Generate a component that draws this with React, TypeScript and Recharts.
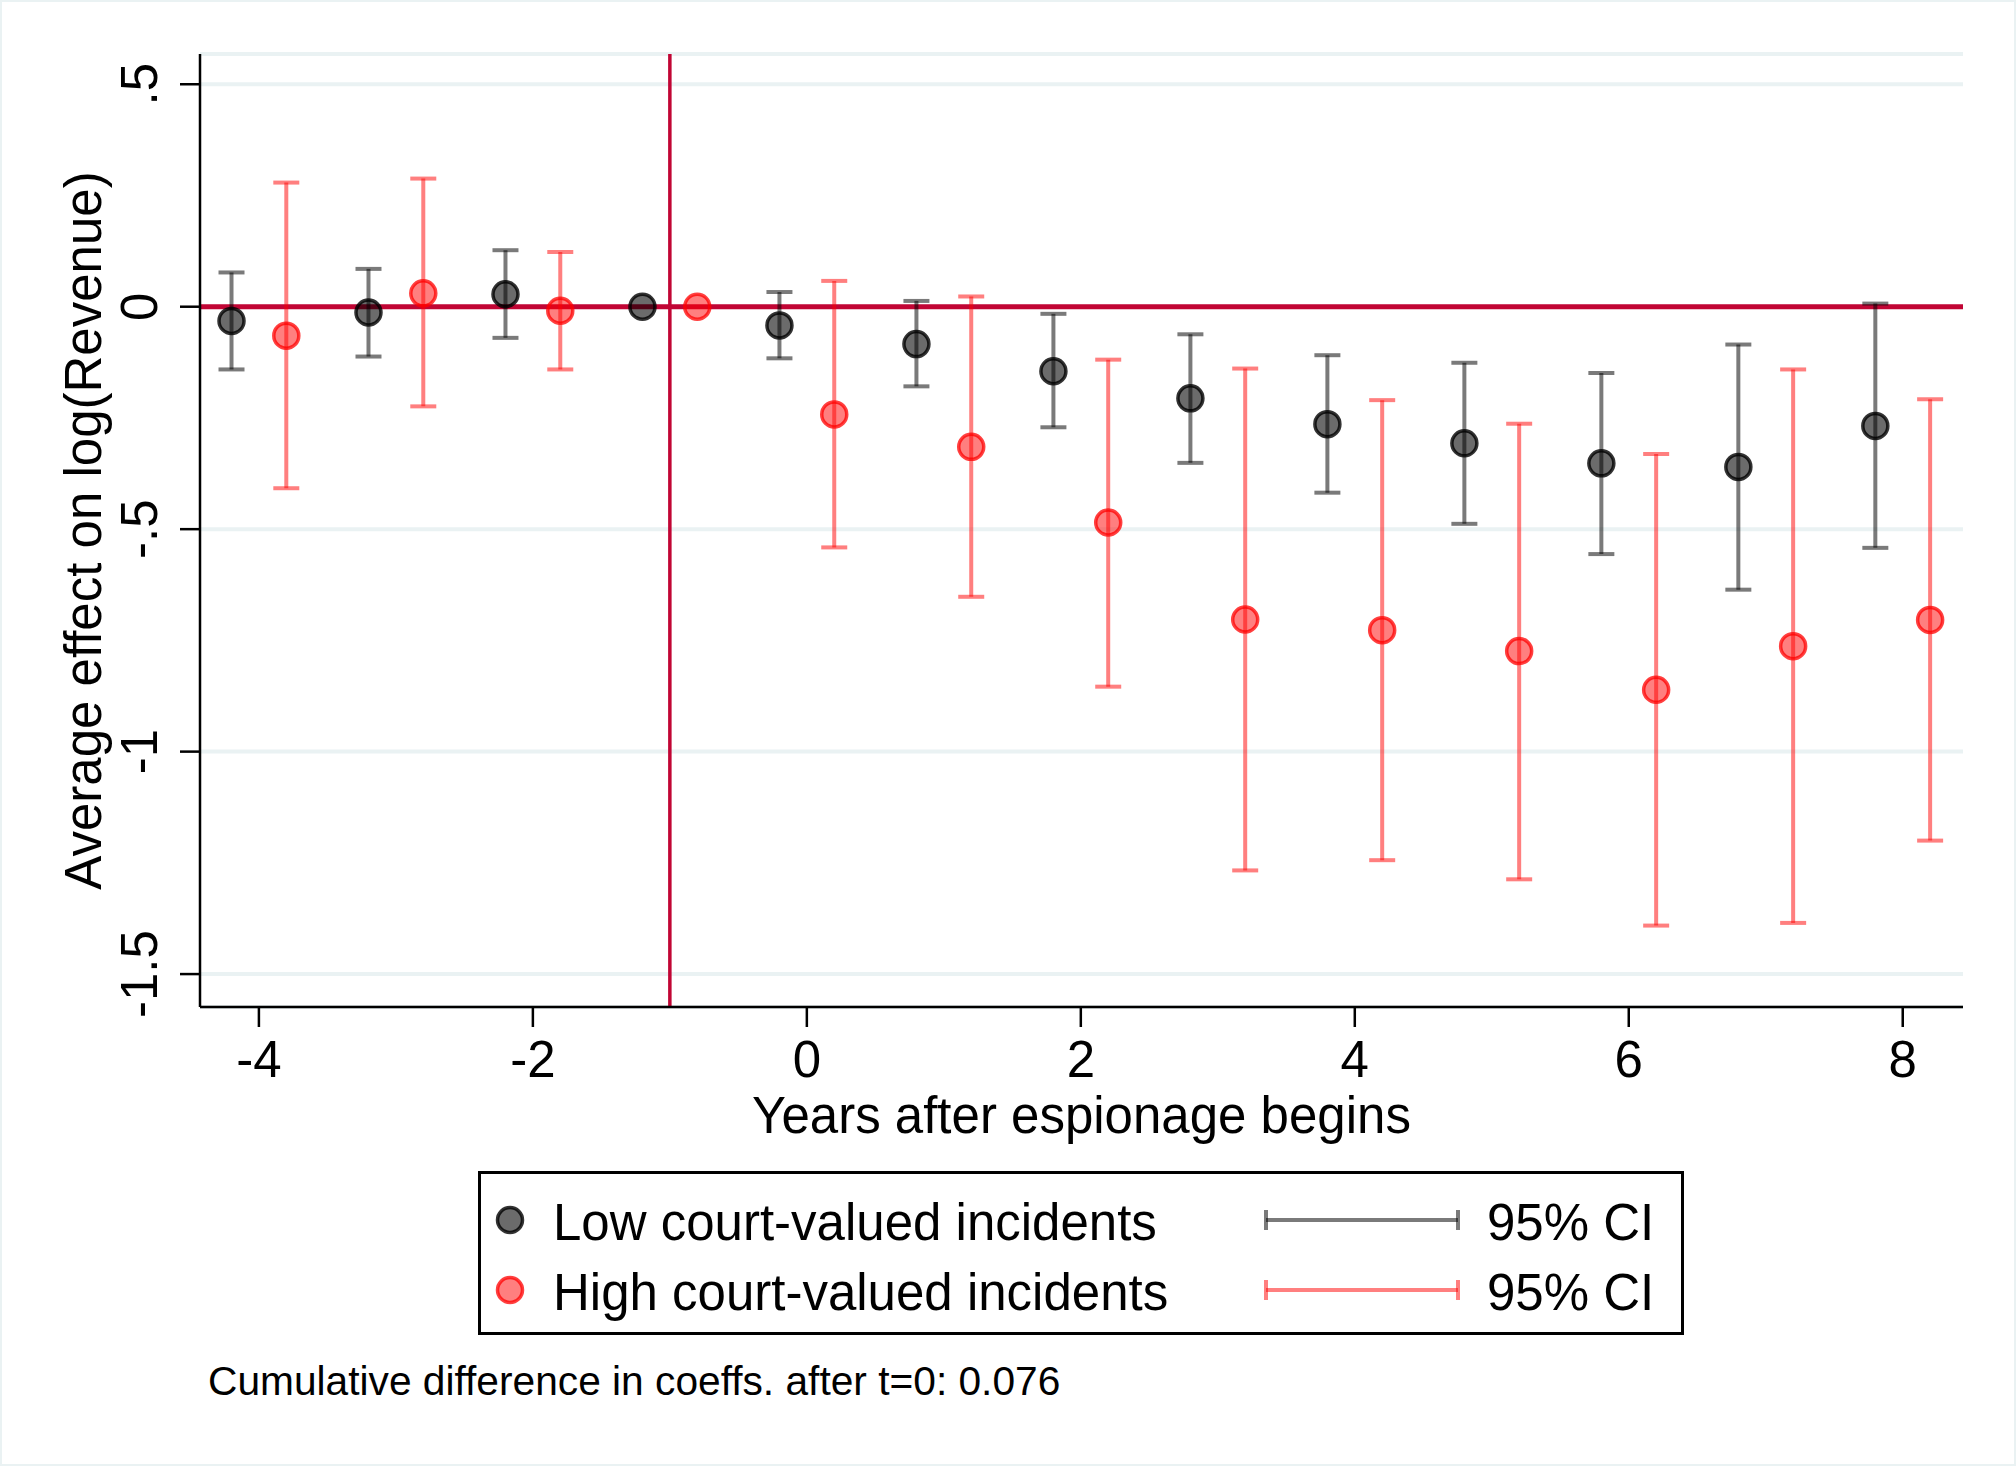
import React from "react";
import {
  ComposedChart,
  Scatter,
  ErrorBar,
  XAxis,
  YAxis,
  CartesianGrid,
  ReferenceLine,
  Legend,
  Label,
} from "recharts";

// event time (years after espionage begins); -1 is the omitted reference year
const years = [-4, -3, -2, -1, 0, 1, 2, 3, 4, 5, 6, 7, 8];

// low court-valued incidents
const lowCoef = [-0.032, -0.013, 0.028, 0, -0.042, -0.084, -0.145, -0.206, -0.264, -0.307, -0.352, -0.36, -0.268];
const lowLo = [-0.141, -0.112, -0.07, null, -0.116, -0.179, -0.271, -0.351, -0.418, -0.488, -0.556, -0.636, -0.542];
const lowHi = [0.077, 0.085, 0.127, null, 0.033, 0.013, -0.016, -0.062, -0.109, -0.126, -0.149, -0.085, 0.007];

// high court-valued incidents
const highCoef = [-0.065, 0.03, -0.009, 0, -0.242, -0.315, -0.485, -0.703, -0.727, -0.774, -0.861, -0.763, -0.704];
const highLo = [-0.408, -0.224, -0.141, null, -0.541, -0.652, -0.854, -1.267, -1.244, -1.287, -1.391, -1.385, -1.2];
const highHi = [0.279, 0.288, 0.123, null, 0.058, 0.023, -0.119, -0.139, -0.21, -0.263, -0.331, -0.141, -0.208];

const seriesNames = ["Low court-valued incidents", "High court-valued incidents"];
const ciLabel = "95% CI";
const xTicks = [-4, -2, 0, 2, 4, 6, 8];
const yTicks = [0.5, 0, -0.5, -1, -1.5];
const xTitle = "Years after espionage begins";
const yTitle = "Average effect on log(Revenue)";
const note = "Cumulative difference in coeffs. after t=0: 0.076";

const FONT = '"Liberation Sans", Arial, Helvetica, sans-serif';
const FS = 51;
const CRANBERRY = "#C10534";
const GRID = "#EAF2F3";
const LOW_FILL = "rgba(0,0,0,0.58)";
const LOW_LINE = "rgba(0,0,0,0.52)";
const LOW_EDGE = "rgba(0,0,0,0.8)";
const HIGH_FILL = "rgba(255,0,0,0.5)";
const HIGH_LINE = "rgba(255,0,0,0.5)";
const HIGH_EDGE = "rgba(255,0,0,0.75)";

function buildRows(coef: number[], lo: (number | null)[], hi: (number | null)[], dx: number) {
  return years.map((t, i) => ({
    x: t + dx,
    y: coef[i],
    err: lo[i] === null ? null : [coef[i] - (lo[i] as number), (hi[i] as number) - coef[i]],
  }));
}

const lowRows = buildRows(lowCoef, lowLo, lowHi, -0.2);
const highRows = buildRows(highCoef, highLo, highHi, 0.2);

const dot = (fill: string, stroke: string) => (props: any) =>
  <circle cx={props.cx} cy={props.cy} r={12.5} fill={fill} stroke={stroke} strokeWidth={3.5} />;

const fmtY = (v: number) => String(v).replace("0.", ".");

const YTick = (props: any) => (
  <text
    transform={`translate(${props.x - 21}, ${props.y}) rotate(-90)`}
    textAnchor="middle"
    fontSize={FS}
    fill="#000"
    fontFamily={FONT}
  >
    {fmtY(props.payload.value)}
  </text>
);

const LegendBox = () => {
  const rows = [
    { name: seriesNames[0], fill: LOW_FILL, edge: LOW_EDGE, line: LOW_LINE, y: 49 },
    { name: seriesNames[1], fill: HIGH_FILL, edge: HIGH_EDGE, line: HIGH_LINE, y: 119 },
  ];
  return (
    <svg width={1207} height={166} style={{ display: "block", fontFamily: FONT }}>
      <rect x={1.5} y={1.5} width={1203} height={161} fill="#fff" stroke="#000" strokeWidth={3} />
      {rows.map((r) => (
        <g key={r.name}>
          <circle cx={32} cy={r.y} r={12.5} fill={r.fill} stroke={r.edge} strokeWidth={3.5} />
          <text x={75} y={r.y + 20} fontSize={FS} fill="#000">{r.name}</text>
          <line x1={788} x2={980} y1={r.y} y2={r.y} stroke={r.line} strokeWidth={4} />
          <line x1={788} x2={788} y1={r.y - 10} y2={r.y + 10} stroke={r.line} strokeWidth={4} />
          <line x1={980} x2={980} y1={r.y - 10} y2={r.y + 10} stroke={r.line} strokeWidth={4} />
          <text x={1009} y={r.y + 20} fontSize={FS} fill="#000">{ciLabel}</text>
        </g>
      ))}
    </svg>
  );
};

export default function App() {
  return (
    <div style={{ position: "relative", width: 2016, height: 1466, background: "#fff", fontFamily: FONT }}>
      <style>{"body{margin:0}"}</style>
      <ComposedChart
        width={2016}
        height={1466}
        margin={{ top: 54, right: 53, bottom: 399, left: 0 }}
        style={{ fontFamily: FONT }}
      >
        <CartesianGrid vertical={false} stroke={GRID} strokeWidth={4} />
        <XAxis
          type="number"
          dataKey="x"
          domain={[-4.43, 8.44]}
          ticks={xTicks}
          interval={0}
          allowDataOverflow
          height={60}
          tickSize={20}
          tickMargin={14}
          tick={{ fontSize: FS, fill: "#000" }}
          axisLine={{ stroke: "#000", strokeWidth: 2.5 }}
          tickLine={{ stroke: "#000", strokeWidth: 2.5 }}
        >
          <Label
            content={(p: any) => (
              <text
                x={p.viewBox.x + p.viewBox.width / 2}
                y={p.viewBox.y + 126}
                textAnchor="middle"
                fontSize={FS}
                fill="#000"
                fontFamily={FONT}
              >
                {xTitle}
              </text>
            )}
          />
        </XAxis>
        <YAxis
          type="number"
          dataKey="y"
          domain={[-1.574, 0.568]}
          ticks={yTicks}
          interval={0}
          allowDataOverflow
          width={200}
          tickSize={20}
          tick={<YTick />}
          axisLine={{ stroke: "#000", strokeWidth: 2.5 }}
          tickLine={{ stroke: "#000", strokeWidth: 2.5 }}
        >
          <Label
            content={(p: any) => (
              <text
                transform={`translate(${p.viewBox.x + 101}, ${p.viewBox.y + p.viewBox.height / 2}) rotate(-90)`}
                textAnchor="middle"
                fontSize={FS}
                fill="#000"
                fontFamily={FONT}
              >
                {yTitle}
              </text>
            )}
          />
        </YAxis>
        <ReferenceLine y={0} stroke={CRANBERRY} strokeWidth={5} />
        <ReferenceLine x={-1} stroke={CRANBERRY} strokeWidth={3.5} />
        <Scatter
          name={seriesNames[0]}
          data={lowRows}
          shape={dot(LOW_FILL, LOW_EDGE)}
          isAnimationActive={false}
        >
          <ErrorBar dataKey="err" direction="y" width={13} stroke={LOW_LINE} strokeWidth={4} isAnimationActive={false} />
        </Scatter>
        <Scatter
          name={seriesNames[1]}
          data={highRows}
          shape={dot(HIGH_FILL, HIGH_EDGE)}
          isAnimationActive={false}
        >
          <ErrorBar dataKey="err" direction="y" width={13} stroke={HIGH_LINE} strokeWidth={4} isAnimationActive={false} />
        </Scatter>
        <Legend
          layout="horizontal"
          verticalAlign="middle"
          align="center"
          content={<LegendBox />}
          wrapperStyle={{ position: "absolute", left: 478, top: 1171, width: 1207, height: 166 }}
        />
      </ComposedChart>
      <svg
        width={2016}
        height={1466}
        style={{ position: "absolute", left: 0, top: 0, pointerEvents: "none", fontFamily: FONT }}
      >
        <text x={208} y={1395} fontSize={40.7} fill="#000">{note}</text>
        <rect x={1} y={1} width={2014} height={1464} fill="none" stroke={GRID} strokeWidth={2} />
      </svg>
    </div>
  );
}
